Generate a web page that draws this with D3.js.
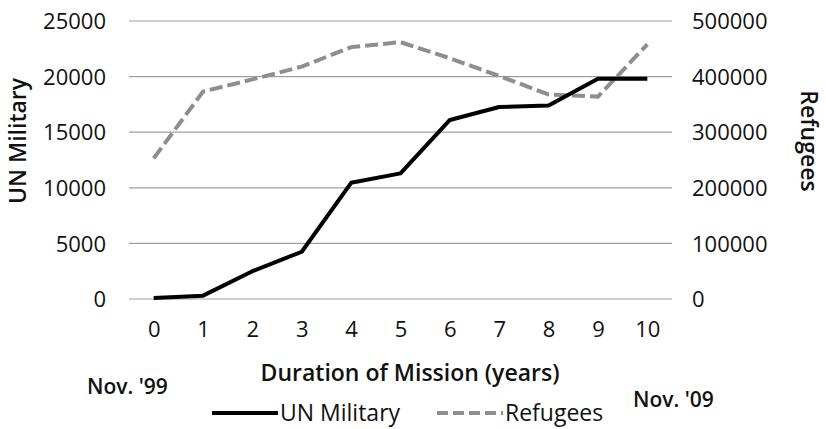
<!DOCTYPE html>
<html>
<head>
<meta charset="utf-8">
<script src="https://cdn.jsdelivr.net/npm/d3@7"></script>
<style>
  body { margin: 0; background: #fff; }
  text { font-family: "Open Sans", sans-serif; fill: #111; }
</style>
</head>
<body>
<script>
// Data
var years = [0, 1, 2, 3, 4, 5, 6, 7, 8, 9, 10];
var unMilitary = [100, 300, 2500, 4250, 10450, 11300, 16100, 17270, 17400, 19800, 19800];
var refugees = [253000, 373000, 395000, 418000, 453000, 462000, 433000, 401000, 368000, 364000, 458000];
var leftTicks = [0, 5000, 10000, 15000, 20000, 25000];
var rightTicks = [0, 100000, 200000, 300000, 400000, 500000];

var width = 826, height = 429;
var plot = {left: 129, right: 672, top: 21, bottom: 299};

var svg = d3.select("body").append("svg")
    .attr("width", width)
    .attr("height", height);

// Scales
var xScale = d3.scalePoint()
    .domain(years)
    .range([plot.left, plot.right])
    .padding(0.5);
var yLeft = d3.scaleLinear().domain([0, 25000]).range([plot.bottom, plot.top]);
var yRight = d3.scaleLinear().domain([0, 500000]).range([plot.bottom, plot.top]);

// Gridlines
svg.append("g")
    .selectAll("line")
    .data(leftTicks)
    .enter().append("line")
    .attr("x1", plot.left)
    .attr("x2", plot.right)
    .attr("y1", function(d) { return yLeft(d); })
    .attr("y2", function(d) { return yLeft(d); })
    .attr("stroke", "#a0a0a0")
    .attr("stroke-width", 1.2);

// Left axis
var leftAxis = d3.axisLeft(yLeft).tickValues(leftTicks).tickSize(0).tickPadding(0)
    .tickFormat(d3.format("d"));
var gl = svg.append("g")
    .attr("transform", "translate(106,0)")
    .call(leftAxis);
gl.select(".domain").remove();
gl.selectAll("text").style("font-size", "22px").attr("fill", "#111").attr("dy", "0.35em");

// Right axis
var rightAxis = d3.axisRight(yRight).tickValues(rightTicks).tickSize(0).tickPadding(0)
    .tickFormat(d3.format("d"));
var gr = svg.append("g")
    .attr("transform", "translate(692,0)")
    .call(rightAxis);
gr.select(".domain").remove();
gr.selectAll("text").style("font-size", "22px").attr("fill", "#111").attr("dy", "0.35em");

// X axis labels
var bottomAxis = d3.axisBottom(xScale).tickSize(0).tickPadding(0);
var gb = svg.append("g")
    .attr("transform", "translate(0,321)")
    .call(bottomAxis);
gb.select(".domain").remove();
gb.selectAll("text").style("font-size", "22px").attr("fill", "#111").attr("dy", "0.71em");

// Lines
var refLine = d3.line()
    .x(function(d, i) { return xScale(years[i]); })
    .y(function(d) { return yRight(d); });
var milLine = d3.line()
    .x(function(d, i) { return xScale(years[i]); })
    .y(function(d) { return yLeft(d); });

svg.append("path")
    .datum(refugees)
    .attr("d", refLine)
    .attr("fill", "none")
    .attr("stroke", "#8e8e8e")
    .attr("stroke-width", 4)
    .attr("stroke-dasharray", "13,5");

svg.append("path")
    .datum(unMilitary)
    .attr("d", milLine)
    .attr("fill", "none")
    .attr("stroke", "#000")
    .attr("stroke-width", 4)
    .attr("stroke-linejoin", "round");

// Axis titles
svg.append("text")
    .attr("transform", "translate(26,141) rotate(-90)")
    .attr("text-anchor", "middle")
    .style("font-size", "23px")
    .style("font-weight", "600")
    .text("UN Military");

svg.append("text")
    .attr("transform", "translate(801,141) rotate(90)")
    .attr("text-anchor", "middle")
    .style("font-size", "23px")
    .style("font-weight", "600")
    .text("Refugees");

svg.append("text")
    .attr("x", 410)
    .attr("y", 381)
    .attr("text-anchor", "middle")
    .style("font-size", "23px")
    .style("font-weight", "600")
    .text("Duration of Mission (years)");

svg.append("text")
    .attr("x", 87)
    .attr("y", 394)
    .style("font-size", "21px")
    .style("font-weight", "600")
    .text("Nov. '99");

svg.append("text")
    .attr("x", 633)
    .attr("y", 407)
    .style("font-size", "21px")
    .style("font-weight", "600")
    .text("Nov. '09");

// Legend
var legend = [
    {name: "UN Military", color: "#000", dash: null, x: 212},
    {name: "Refugees", color: "#8e8e8e", dash: "11,5", x: 437}
];
var lg = svg.append("g").selectAll("g")
    .data(legend)
    .enter().append("g")
    .attr("transform", function(d) { return "translate(" + d.x + ",413)"; });
lg.append("line")
    .attr("x1", 0).attr("x2", 66)
    .attr("stroke", function(d) { return d.color; })
    .attr("stroke-width", 4)
    .attr("stroke-dasharray", function(d) { return d.dash; });
lg.append("text")
    .attr("x", 68)
    .attr("dy", "0.35em")
    .style("font-size", "23px")
    .text(function(d) { return d.name; });
</script>
</body>
</html>
